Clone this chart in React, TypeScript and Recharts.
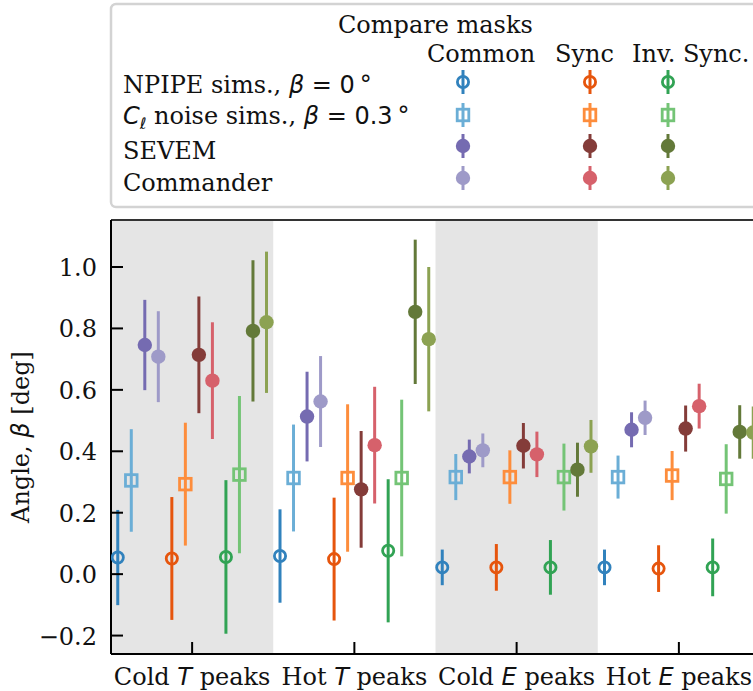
import React from 'react';
import { ScatterChart, Scatter, XAxis, YAxis, ErrorBar, ReferenceArea, ReferenceLine } from 'recharts';

const groupWords = ['Cold', 'Hot', 'Cold', 'Hot'];
const groupFields = ['T', 'T', 'E', 'E'];
const masks = ['Common', 'Sync', 'Inv. Sync.'];
const xTicks = [0, 1, 2, 3];
const yTicks = [-0.2, 0, 0.2, 0.4, 0.6, 0.8, 1.0];

// rows: Common, Sync, Inv. Sync. / columns: Cold T, Hot T, Cold E, Hot E
const npipeBeta = [
    [0.054, 0.059, 0.022, 0.022],
    [0.051, 0.049, 0.022, 0.018],
    [0.056, 0.076, 0.022, 0.022],
];
const npipeErr = [
    [0.155, 0.152, 0.058, 0.058],
    [0.2, 0.2, 0.076, 0.076],
    [0.25, 0.233, 0.089, 0.094],
];
const clBeta = [
    [0.305, 0.313, 0.316, 0.316],
    [0.293, 0.313, 0.316, 0.321],
    [0.324, 0.313, 0.316, 0.31],
];
const clErr = [
    [0.167, 0.174, 0.075, 0.07],
    [0.2, 0.24, 0.087, 0.08],
    [0.256, 0.255, 0.109, 0.113],
];
const sevemBeta = [
    [0.746, 0.513, 0.383, 0.47],
    [0.714, 0.276, 0.418, 0.474],
    [0.792, 0.854, 0.34, 0.463],
];
const sevemErr = [
    [0.147, 0.146, 0.055, 0.057],
    [0.19, 0.19, 0.074, 0.075],
    [0.23, 0.235, 0.088, 0.087],
];
const commanderBeta = [
    [0.708, 0.562, 0.403, 0.509],
    [0.63, 0.42, 0.39, 0.547],
    [0.82, 0.765, 0.416, 0.461],
];
const commanderErr = [
    [0.148, 0.148, 0.055, 0.056],
    [0.19, 0.19, 0.074, 0.073],
    [0.23, 0.235, 0.086, 0.085],
];

type Marker = 'ring' | 'square' | 'dot';

const sources: { name: string; beta: number[][]; err: number[][]; colors: string[]; marker: Marker }[] = [
    { name: 'npipe', beta: npipeBeta, err: npipeErr, colors: ['#3182bd', '#e6550d', '#31a354'], marker: 'ring' },
    { name: 'cl', beta: clBeta, err: clErr, colors: ['#6baed6', '#fd8d3c', '#74c476'], marker: 'square' },
    { name: 'sevem', beta: sevemBeta, err: sevemErr, colors: ['#756bb1', '#843c39', '#637939'], marker: 'dot' },
    { name: 'commander', beta: commanderBeta, err: commanderErr, colors: ['#9e9ac8', '#d6616b', '#8ca252'], marker: 'dot' },
];

const SERIF = '"DejaVu Serif", serif';
const MATH = '"DejaVu Sans", sans-serif';
const FS = 24;

const drawMarker = (kind: Marker, color: string, cx: number, cy: number) => {
    if (kind === 'ring') return <circle cx={cx} cy={cy} r={5.6} fill="none" stroke={color} strokeWidth={2.8} />;
    if (kind === 'square') return <rect x={cx - 5.8} y={cy - 5.8} width={11.6} height={11.6} fill="none" stroke={color} strokeWidth={2.8} />;
    return <circle cx={cx} cy={cy} r={7.2} fill={color} />;
};

const series = masks.flatMap((mask, m) =>
    sources.map((src, s) => {
        const k = m * 4 + s;
        return {
            id: `${src.name}-${mask}`,
            color: src.colors[m],
            marker: src.marker,
            data: groupWords.map((_, g) => ({ x: g + (k - 5.5) / 12, y: src.beta[m][g], err: src.err[m][g] })),
        };
    })
);

const XTick = (props: any) => {
    const { x, y, payload } = props;
    const i = payload.value as number;
    return (
        <g>
            <line x1={x} y1={y} x2={x} y2={y - 12} stroke="#000" strokeWidth={2} />
            <text x={x} y={y + 31} textAnchor="middle" fontFamily={SERIF} fontSize={FS} fill="#111">
                {groupWords[i]}{' '}
                <tspan fontFamily={MATH} fontStyle="italic">{groupFields[i]}</tspan>
                {' peaks'}
            </text>
        </g>
    );
};

const YTick = (props: any) => {
    const { x, y, payload } = props;
    const v = payload.value as number;
    const label = (v < 0 ? '\u2212' : '') + Math.abs(v).toFixed(1);
    return (
        <g>
            <line x1={x} y1={y} x2={x + 12} y2={y} stroke="#000" strokeWidth={2} />
            <text x={x - 14} y={y + 9} textAnchor="end" fontFamily={SERIF} fontSize={FS} fill="#111">{label}</text>
        </g>
    );
};

const yLabel = () => (
    <text x={29} y={437} transform="rotate(-90, 29, 437)" textAnchor="middle" fontFamily={SERIF} fontSize={FS} fill="#111">
        {'Angle, '}
        <tspan fontFamily={MATH} fontStyle="italic">β</tspan>
        {' [deg]'}
    </text>
);

const rowLabels = [
    <>
        {'NPIPE sims., '}
        <tspan fontFamily={MATH} fontStyle="italic">β</tspan>
        <tspan fontFamily={MATH}>{' = 0'}</tspan>
        <tspan fontFamily={MATH} dx={5}>°</tspan>
    </>,
    <>
        <tspan fontFamily={MATH} fontStyle="italic">C</tspan>
        <tspan fontFamily={MATH} fontStyle="italic" fontSize={16} dy={5}>ℓ</tspan>
        <tspan dy={-5}>{' noise sims., '}</tspan>
        <tspan fontFamily={MATH} fontStyle="italic">β</tspan>
        <tspan fontFamily={MATH}>{' = 0.3'}</tspan>
        <tspan fontFamily={MATH} dx={5}>°</tspan>
    </>,
    <>SEVEM</>,
    <>Commander</>,
];

const LegendBox = () => {
    const colX = [463, 590, 668];
    const rowY = [82, 115, 146, 178];
    const labelY = [93, 124, 159, 191];
    const headX = [427, 555, 632];
    return (
        <svg width={753} height={215} style={{ position: 'absolute', left: 0, top: 0 }}>
            <rect x={111} y={4} width={700} height={203} rx={5} fill="#fff" stroke="#d3d3d3" strokeWidth={2.5} />
            <g fontFamily={SERIF} fontSize={FS} fill="#111">
                <text x={338} y={33}>Compare masks</text>
                {masks.map((mk, m) => (
                    <text key={mk} x={headX[m]} y={62}>{mk}</text>
                ))}
                {rowLabels.map((lab, r) => (
                    <text key={r} x={123} y={labelY[r]}>{lab}</text>
                ))}
            </g>
            {sources.map((src, s) =>
                src.colors.map((c, m) => (
                    <g key={`${s}-${m}`}>
                        <line x1={colX[m]} y1={rowY[s] - 12} x2={colX[m]} y2={rowY[s] + 12} stroke={c} strokeWidth={3} />
                        {drawMarker(src.marker, c, colX[m], rowY[s])}
                    </g>
                ))
            )}
        </svg>
    );
};

const Y_MIN = -0.26;
const Y_MAX = 1.153;

export default function App() {
    return (
        <div style={{ position: 'fixed', left: 0, top: 0, width: 753, height: 691, overflow: 'hidden', background: '#fff' }}>
            <ScatterChart width={800} height={691} margin={{ top: 220, right: 40, left: 0, bottom: 0 }}>
                <ReferenceArea x1={-0.5} x2={0.5} y1={Y_MIN} y2={Y_MAX} fill="#e5e5e5" fillOpacity={1} stroke="none" />
                <ReferenceArea x1={1.5} x2={2.5} y1={Y_MIN} y2={Y_MAX} fill="#e5e5e5" fillOpacity={1} stroke="none" />
                <ReferenceLine y={Y_MAX} stroke="#333" strokeWidth={2} />
                <XAxis
                    type="number"
                    dataKey="x"
                    domain={[-0.5, 3.5]}
                    allowDataOverflow
                    ticks={xTicks}
                    tickSize={0}
                    tickMargin={0}
                    tickLine={false}
                    tick={<XTick />}
                    axisLine={{ stroke: '#000', strokeWidth: 2 }}
                    height={37}
                    interval={0}
                />
                <YAxis
                    type="number"
                    dataKey="y"
                    domain={[Y_MIN, Y_MAX]}
                    allowDataOverflow
                    ticks={yTicks}
                    tickSize={0}
                    tickMargin={0}
                    tickLine={false}
                    tick={<YTick />}
                    axisLine={{ stroke: '#000', strokeWidth: 2 }}
                    width={111}
                    interval={0}
                    label={yLabel}
                />
                {series.map((sr) => (
                    <Scatter
                        key={sr.id}
                        data={sr.data}
                        isAnimationActive={false}
                        shape={(p: any) => drawMarker(sr.marker, sr.color, p.cx, p.cy)}
                    >
                        <ErrorBar dataKey="err" direction="y" width={0} stroke={sr.color} strokeWidth={3} />
                    </Scatter>
                ))}
            </ScatterChart>
            <LegendBox />
        </div>
    );
}
